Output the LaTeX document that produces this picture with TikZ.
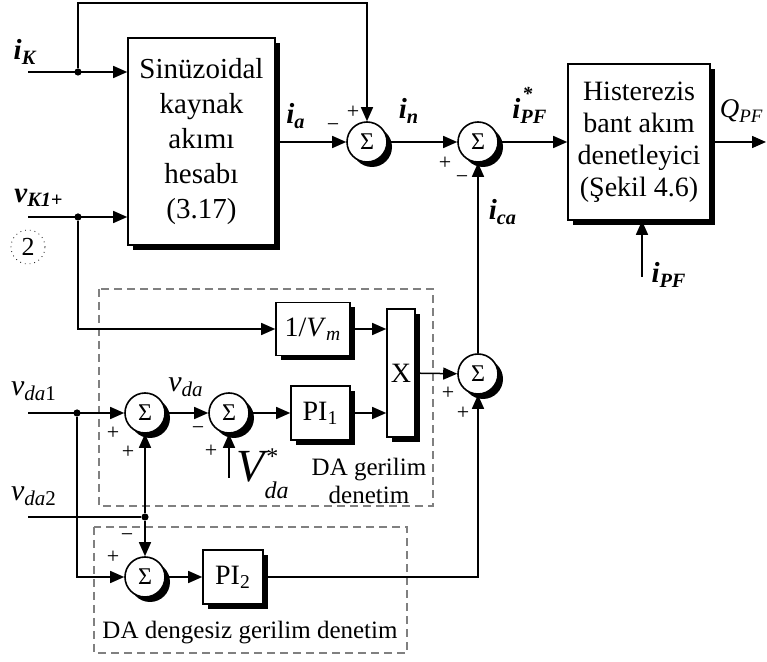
\documentclass[tikz,border=0pt]{standalone}
\usepackage{fontspec}
\setmainfont{Liberation Serif}
\usetikzlibrary{arrows.meta,shadows}
\newcommand{\bi}[2]{\textbf{\itshape #1\textsubscript{#2}}}

\begin{document}
\begin{tikzpicture}[x=0.5pt,y=-0.5pt,font=\fontsize{13}{15}\selectfont,
  shd/.style={drop shadow={shadow xshift=2.5pt,shadow yshift=-2.5pt,opacity=1,fill=black}},
  blk/.style={draw,line width=0.8pt,fill=white,inner sep=0pt,align=center,shd},
  sum/.style={draw,circle,line width=0.8pt,fill=white,minimum size=20pt,inner sep=0pt,
              font=\fontsize{12}{12}\selectfont,shd},
  ar/.style={-{Triangle[length=7pt,width=6pt]},line width=0.75pt},
  ln/.style={line width=0.75pt},
  dot/.style={circle,fill,inner sep=0pt,minimum size=3.6pt},
  sg/.style={font=\fontsize{11}{11}\selectfont,inner sep=0pt},
  lb/.style={font=\fontsize{14.5}{14.5}\selectfont,inner sep=0pt},
  dbox/.style={draw=black!50,line width=0.6pt,dash pattern=on 4pt off 2.5pt},
]
\useasboundingbox (0,0) rectangle (767,662);

\draw[dbox] (99,289) rectangle (433,506);
\draw[dbox] (94,527) rectangle (407,653);

\node[blk,minimum width=73.5pt,minimum height=103.5pt,font=\fontsize{14.5}{17.5}\selectfont] (sin)
  at (201.5,141.5) {Sinüzoidal\\kaynak\\akımı\\hesabı\\(3.17)};
\node[blk,minimum width=71pt,minimum height=78pt,font=\fontsize{14}{16}\selectfont] (hist)
  at (639,142) {Histerezis\\bant akım\\denetleyici\\(Şekil 4.6)};
\node[sum] (s1) at (367,142) {Σ};
\node[sum] (s2) at (478,142) {Σ};
\node[sum] (s3) at (478,374) {Σ};
\node[sum] (s4) at (145,413) {Σ};
\node[sum] (s5) at (229,413) {Σ};
\node[sum] (s6) at (145,577) {Σ};
\node[blk,minimum width=37pt,minimum height=26.5pt,font=\fontsize{14}{14}\selectfont] (vm)
  at (313,329) {1/\textit{V}\textsubscript{\textit{m}}};
\node[blk,minimum width=29.5pt,minimum height=27pt,font=\fontsize{14}{14}\selectfont] (pi1)
  at (320.5,413) {PI\textsubscript{1}};
\node[blk,minimum width=14pt,minimum height=64pt,font=\fontsize{14}{14}\selectfont] (xb)
  at (401,373) {X};
\node[blk,minimum width=30pt,minimum height=27pt,font=\fontsize{14}{14}\selectfont] (pi2)
  at (233,577) {PI\textsubscript{2}};

\coordinate (iK) at (28,72);
\node[dot] (jK) at (78,72) {};
\coordinate (vK) at (28,217);
\node[dot] (jV) at (78,217) {};
\coordinate (vd1) at (28,413);
\node[dot] (j1) at (77,413) {};
\coordinate (vd2) at (28,517);
\node[dot] (j2) at (145,517) {};
\coordinate (vst) at (229,478);
\coordinate (ipf) at (642,277);
\coordinate (qpf) at (766,142);

\draw[ar] (iK) -- (iK -| sin.west);
\draw[ar] (jK) -- ++(0,-69) -| (s1.north);
\draw[ar] (vK) -- (vK -| sin.west);
\draw[ar] (jV) |- (vm.west);
\draw[ar] (s1 -| sin.east) -- (s1.west);
\draw[ar] (s1) -- (s2);
\draw[ar] (s2) -- (hist);
\draw[ar] (hist) -- (qpf);
\draw[ar] (ipf) -- (ipf |- hist.south);
\draw[ar] (s3) -- (s2);
\draw[ar] (vm.east) -- (vm.east -| xb.west);
\draw[ar] (pi1.east) -- (pi1.east -| xb.west);
\draw[ar] (xb) -- (s3);
\draw[ar] (vd1) -- (s4);
\draw[ar] (j1) |- (s6.west);
\draw[ar] (s4) -- (s5);
\draw[ar] (s5) -- (pi1);
\draw[ar] (vst) -- (s5.south);
\draw[ln] (vd2) -- (j2);
\draw[ar] (j2) -- (s4.south);
\draw[ar] (j2) -- (s6.north);
\draw[ar] (s6) -- (pi2);
\draw[ar] (pi2.east) -| (s3.south);

\node[lb] (liK) at (25,52) {\bi{i}{K}};
\node[lb] (lvK) at (39,198) {\bi{v}{K1+}};
\node[lb] (lia) at (296,116) {\bi{i}{a}};
\node[lb] (lin) at (409,111) {\bi{i}{n}};
\node[lb,anchor=base west] (lipfs) at (512,119)
  {\textbf{\itshape i\rlap{\raisebox{0.65em}{\kern1pt\fontsize{10}{10}\selectfont *}}\textsubscript{PF}}};
\node[lb,font=\fontsize{13.5}{13.5}\selectfont,anchor=base east] (lq) at (764,118)
  {\textit{Q}\textsubscript{\textit{PF}}};
\node[lb] (lica) at (503,212) {\bi{i}{ca}};
\node[lb] (lipf) at (669,275) {\bi{i}{PF}};
\node[draw,dotted,circle,minimum size=17pt,inner sep=0pt,font=\fontsize{13}{13}\selectfont] (two)
  at (28,247) {2};

\node[lb,font=\fontsize{15}{15}\selectfont] (lvd1) at (34,391) {\textit{v}\textsubscript{\textit{da}1}};
\node[lb,font=\fontsize{15}{15}\selectfont] (lvd) at (186,387) {\textit{v}\textsubscript{\textit{da}}};
\node[lb,font=\fontsize{15}{15}\selectfont] (lvd2) at (34,496) {\textit{v}\textsubscript{\textit{da}2}};
\node[anchor=base west,inner sep=0pt,font=\fontsize{12}{12}\selectfont] (lvst) at (236,482)
  {{\fontsize{23}{23}\selectfont\itshape V}\rlap{\raisebox{1.6ex}{\kern1pt *}}\raisebox{-1.5ex}{\itshape da}};

\node[sg] (m1) at (333,128) {−};
\node[sg] (p1) at (353,112) {+};
\node[sg] (p2) at (445,163) {+};
\node[sg] (m2) at (462,180) {−};
\node[sg] (p3) at (448,393) {+};
\node[sg] (p4) at (463,413) {+};
\node[sg] (p5) at (113,433) {+};
\node[sg] (p6) at (128,452) {+};
\node[sg] (m5) at (198,431) {−};
\node[sg] (p7) at (211,451) {+};
\node[sg] (m6) at (127,538) {−};
\node[sg] (p8) at (113,557) {+};

\node[align=center,font=\fontsize{12.5}{14}\selectfont] (ldg) at (369,481) {DA gerilim\\denetim};
\node[font=\fontsize{12.5}{14}\selectfont] (ldd) at (250,633) {DA dengesiz gerilim denetim};
\end{tikzpicture}
\end{document}
